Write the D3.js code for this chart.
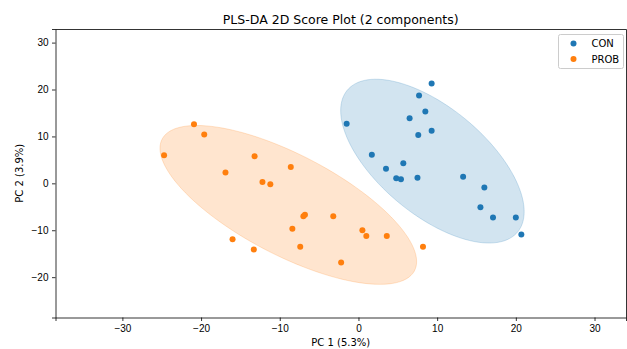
<!DOCTYPE html>
<html>
<head>
<meta charset="utf-8">
<script src="https://cdn.jsdelivr.net/npm/d3@7"></script>
<style>
  body { margin: 0; background: #fff; }
  svg { display: block; font-family: "DejaVu Sans", sans-serif; }
  .tick text { font-size: 10px; fill: #000; }
  .tick line, .domain { stroke: #000; stroke-width: 0.8; }
</style>
</head>
<body>
<div id="chart"></div>
<script>
// score values
let groups = ['CON', 'PROB'];
let conX = [-1.5, 1.7, 3.5, 4.8, 5.4, 5.7, 6.5, 7.6, 7.5, 7.7, 8.5, 9.3, 9.3, 13.3, 16.0, 15.5, 17.1, 20.0, 20.7];
let conY = [12.7, 6.1, 3.1, 1.1, 0.85, 4.3, 13.9, 10.3, 1.2, 18.7, 15.3, 21.3, 11.2, 1.4, -0.9, -5.1, -7.3, -7.3, -10.9];
let probX = [-20.9, -19.6, -24.7, -13.2, -8.6, -16.9, -12.2, -11.2, -6.8, -7.0, -8.4, -16.0, -13.3, -7.4, -3.2, 0.5, 1.0, 3.6, 8.2, -2.2];
let probY = [12.6, 10.4, 6.0, 5.8, 3.5, 2.3, 0.3, -0.2, -6.7, -7.0, -9.7, -11.9, -14.1, -13.5, -7.0, -10.0, -11.2, -11.2, -13.5, -16.9];
let xTicks = [-30, -20, -10, 0, 10, 20, 30];
let yTicks = [-20, -10, 0, 10, 20, 30];
let colors = ['#1f77b4', '#ff7f0e'];

// svg definitions
let svgWidth = 627;
let svgHeight = 349;
let margin = { top: 29, right: 1, bottom: 31.5, left: 55.5 };
let width = svgWidth - margin.left - margin.right;
let height = svgHeight - margin.top - margin.bottom;

let svg = d3.select('#chart').append('svg')
  .attr('width', svgWidth)
  .attr('height', svgHeight);

let chartG = svg.append('g')
  .attr('transform', `translate(${margin.left}, ${margin.top})`);

let xScale = d3.scaleLinear().domain([-38.5, 34.0]).range([0, width]);
let yScale = d3.scaleLinear().domain([-28.6, 32.9]).range([height, 0]);

let series = [
  { name: groups[0], xs: conX, ys: conY, color: colors[0] },
  { name: groups[1], xs: probX, ys: probY, color: colors[1] }
];

// confidence ellipse from the sample covariance
function ellipsePoints(xs, ys, nStd) {
  let n = xs.length;
  let mx = d3.mean(xs), my = d3.mean(ys);
  let sxx = 0, syy = 0, sxy = 0;
  for (let i = 0; i < n; i++) {
    sxx += (xs[i] - mx) ** 2;
    syy += (ys[i] - my) ** 2;
    sxy += (xs[i] - mx) * (ys[i] - my);
  }
  sxx /= n - 1; syy /= n - 1; sxy /= n - 1;
  let tr = sxx + syy, det = sxx * syy - sxy * sxy;
  let l1 = tr / 2 + Math.sqrt(tr * tr / 4 - det);
  let l2 = tr / 2 - Math.sqrt(tr * tr / 4 - det);
  let theta = Math.atan2(l1 - sxx, sxy);
  let a = nStd * Math.sqrt(l1), b = nStd * Math.sqrt(l2);
  return d3.range(0, 120).map(k => {
    let t = k / 120 * 2 * Math.PI;
    let u = a * Math.cos(t), v = b * Math.sin(t);
    return [mx + u * Math.cos(theta) - v * Math.sin(theta),
            my + u * Math.sin(theta) + v * Math.cos(theta)];
  });
}

let line = d3.line()
  .x(d => xScale(d[0]))
  .y(d => yScale(d[1]))
  .curve(d3.curveLinearClosed);

let plotG = chartG.append('g');

series.forEach(s => {
  plotG.append('path')
    .attr('d', line(ellipsePoints(s.xs, s.ys, 1.9)))
    .attr('fill', s.color)
    .attr('fill-opacity', 0.2)
    .attr('stroke', s.color)
    .attr('stroke-opacity', 0.2)
    .attr('stroke-width', 1);
});

series.forEach(s => {
  plotG.selectAll(null)
    .data(d3.zip(s.xs, s.ys))
    .enter()
    .append('circle')
    .attr('cx', d => xScale(d[0]))
    .attr('cy', d => yScale(d[1]))
    .attr('r', 3)
    .attr('fill', s.color);
});

// axes
let xAxis = chartG.append('g')
  .attr('transform', `translate(0, ${height})`)
  .call(d3.axisBottom(xScale).tickValues(xTicks).tickSize(3.5).tickPadding(3.5));
let yAxis = chartG.append('g')
  .call(d3.axisLeft(yScale).tickValues(yTicks).tickSize(3.5).tickPadding(3.5));
chartG.append('g')
  .attr('transform', `translate(${width}, 0)`)
  .call(d3.axisRight(yScale).tickValues([]).tickSizeOuter(0));
chartG.append('g')
  .call(d3.axisTop(xScale).tickValues([]).tickSizeOuter(0));

// title and labels
svg.append('text')
  .attr('x', margin.left + width / 2)
  .attr('y', 23.5)
  .attr('text-anchor', 'middle')
  .attr('font-size', '12.5px')
  .text('PLS-DA 2D Score Plot (2 components)');

svg.append('text')
  .attr('x', margin.left + width / 2)
  .attr('y', 346)
  .attr('text-anchor', 'middle')
  .attr('font-size', '10px')
  .text('PC 1 (5.3%)');

svg.append('text')
  .attr('transform', `translate(23, ${margin.top + height / 2}) rotate(-90)`)
  .attr('text-anchor', 'middle')
  .attr('font-size', '10px')
  .text('PC 2 (3.9%)');

// legend
let legend = svg.append('g');
legend.append('rect')
  .attr('x', 558.5).attr('y', 34.5)
  .attr('width', 65).attr('height', 34)
  .attr('rx', 2)
  .attr('fill', '#fff').attr('fill-opacity', 0.8)
  .attr('stroke', '#ccc').attr('stroke-width', 1);
series.forEach((s, i) => {
  legend.append('circle')
    .attr('cx', 573.5).attr('cy', 43.5 + i * 15.5)
    .attr('r', 3).attr('fill', s.color);
  legend.append('text')
    .attr('x', 591.5).attr('y', 47 + i * 15.5)
    .attr('font-size', '10px')
    .text(s.name);
});
</script>
</body>
</html>
